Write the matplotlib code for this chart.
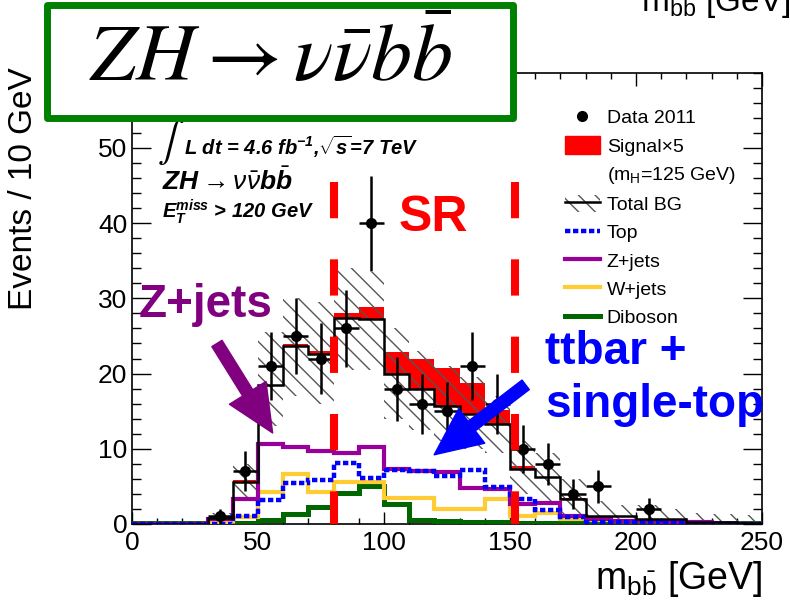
import numpy as np
import matplotlib
matplotlib.use('Agg')
import matplotlib.pyplot as plt
from matplotlib.lines import Line2D
from matplotlib.patches import Patch, Rectangle, FancyArrowPatch

plt.rcParams['font.family'] = ['Liberation Sans', 'DejaVu Sans']
plt.rcParams['mathtext.fontset'] = 'custom'
plt.rcParams['mathtext.rm'] = 'Liberation Sans'
plt.rcParams['mathtext.it'] = 'Liberation Sans:italic'
plt.rcParams['mathtext.bf'] = 'Liberation Sans:bold:italic'
plt.rcParams['hatch.linewidth'] = 1.0

# binning: 10 GeV bins from 0 to 250
edges = np.arange(0, 251, 10)

# total background and components (events per bin)
total_bg = np.array([0, 0, 0.05, 0.8, 5.6, 18.5, 23.7, 22.6, 27.4, 27.2, 20.0, 17.9, 15.7,
                     14.6, 13.3, 7.3, 6.2, 3.3, 1.0, 1.0, 0.7, 0.7, 0.3, 0.2, 0.1])
bg_up = np.array([0, 0, 0.3, 1.5, 8.0, 25.5, 30.0, 29.5, 34.0, 33.5, 26.0, 23.0, 21.0,
                  19.5, 17.0, 11.0, 9.5, 6.0, 3.0, 2.5, 2.5, 2.0, 1.5, 1.3, 1.2])
bg_dn = np.array([0, 0, 0, 0.2, 3.5, 13.0, 17.0, 16.0, 20.5, 20.5, 14.0, 12.5, 11.0,
                  10.0, 9.5, 4.0, 3.0, 1.0, 0, 0, 0, 0, 0, 0, 0])
signal_x5 = np.array([0, 0, 0, 0, 0.2, 0.0, 0.2, 0.4, 0.7, 1.6, 2.9, 4.0, 5.1,
                      4.1, 1.9, 0.4, 0.05, 0.15, 0, 0, 0, 0, 0, 0, 0])
zjets = np.array([0, 0, 0, 0.7, 3.3, 10.6, 10.3, 9.75, 9.4, 10.3, 7.3, 7.0, 6.9,
                  4.8, 4.7, 2.6, 2.8, 1.0, 0.6, 0.4, 0.4, 0.3, 0.3, 0.05, 0.05])
top = np.array([0, 0, 0, 0, 1.0, 3.2, 5.4, 5.85, 8.1, 6.1, 7.2, 7.0, 6.4,
                7.2, 4.9, 3.3, 1.9, 0.9, 0.3, 0.3, 0.2, 0.1, 0, 0, 0])
wjets = np.array([0, 0, 0, 0.1, 0.9, 4.2, 6.7, 4.3, 5.6, 5.6, 3.4, 3.4, 2.0,
                  2.0, 3.3, 1.0, 1.4, 0.6, 0.5, 0.4, 0.4, 0.4, 0, 0, 0])
diboson = np.array([0.1, 0.1, 0.1, 0.1, 0.1, 0.5, 1.3, 2.2, 4.1, 5.0, 2.6, 0.5, 0.4,
                    0.3, 0.3, 0.15, 0.15, 0.15, 0.15, 0.15, 0.15, 0.15, 0.15, 0.15, 0.15])

# data 2011
data_x = np.array([35, 45, 55, 65, 75, 85, 95, 105, 115, 125, 135, 145, 155, 165, 175, 185, 205])
data_y = np.array([1, 7, 21, 25, 22, 26, 40, 18, 16, 15, 21, 16, 10, 8, 4, 5, 2])

# signal region boundaries
sr_edges = [80, 152]

fig = plt.figure(figsize=(7.9, 6.05), dpi=100)
ax = fig.add_axes([0.1671, 0.1339, 0.7975, 0.746])

hatch_col = '#555555'
ax.stairs(total_bg + signal_x5, edges, baseline=total_bg, fill=True, color='red', lw=0, zorder=1)
ax.stairs(bg_up, edges, baseline=bg_dn, fill=True, facecolor='none', edgecolor=hatch_col,
          hatch='\\\\', lw=0, zorder=2)
ax.stairs(diboson, edges, baseline=None, color='#006600', lw=3.6, zorder=3)
ax.stairs(wjets, edges, baseline=None, color='#ffcc33', lw=3.0, zorder=3)
ax.stairs(zjets, edges, baseline=None, color='#990099', lw=3.0, zorder=3)
ax.stairs(top, edges, baseline=None, color='#0000ff', lw=3.2, ls=(0, (1.2, 0.6)), zorder=4)
ax.stairs(total_bg, edges, baseline=None, color='black', lw=1.8, zorder=5)
ax.errorbar(data_x, data_y, xerr=5, yerr=np.sqrt(data_y), fmt='o', color='black',
            ms=7, elinewidth=1.8, capsize=0, zorder=6)

for xs in sr_edges:
    ax.plot([xs, xs], [45.5, 0], color='red', lw=5.8, dashes=(4.5, 5.1), zorder=7, solid_capstyle='butt')

ax.set_xlim(0, 250)
ax.set_ylim(0, 60)
ax.set_xticks(np.arange(0, 251, 50))
ax.set_xticks(np.arange(0, 251, 10), minor=True)
ax.set_yticks(np.arange(0, 51, 10))
ax.set_yticks(np.arange(0, 61, 2), minor=True)
ax.tick_params(which='both', direction='in', top=True, right=True, labelsize=19, width=1.0)
ax.tick_params(axis='x', which='major', length=9, pad=5)
ax.tick_params(axis='x', which='minor', length=4.5)
ax.tick_params(axis='y', which='major', length=13.5)
ax.tick_params(axis='y', which='minor', length=6.8)
for sp in ax.spines.values():
    sp.set_linewidth(1.2)

ax.set_ylabel('Events / 10 GeV', fontsize=24)
ax.yaxis.set_label_coords(-0.147, 0.742)
ax.set_xlabel(r'm$_{\mathrm{b\bar{b}}}$ [GeV]', fontsize=27, loc='right', labelpad=3)

# legend
h_data = Line2D([], [], marker='o', color='black', ls='none', ms=7)
h_sig = Patch(facecolor='red', edgecolor='red')
h_blank = Patch(facecolor='none', edgecolor='none')
h_bg = (Patch(facecolor='white', edgecolor=hatch_col, hatch='\\\\', lw=0),
        Line2D([], [], color='black', lw=1.8))
h_top = Line2D([], [], color='#0000ff', lw=3.2, ls=(0, (1.2, 0.6)))
h_z = Line2D([], [], color='#990099', lw=3.0)
h_w = Line2D([], [], color='#ffcc33', lw=3.0)
h_d = Line2D([], [], color='#006600', lw=3.6)
ax.legend([h_data, h_sig, h_blank, h_bg, h_top, h_z, h_w, h_d],
          ['Data 2011', 'Signal\u00d75', r'(m$_{\mathrm{H}}$=125 GeV)', 'Total BG', 'Top',
           'Z+jets', 'W+jets', 'Diboson'],
          loc='upper left', bbox_to_anchor=(0.687, 0.922), frameon=False, fontsize=14,
          handlelength=1.8, handleheight=1.0, handletextpad=0.35, labelspacing=0.46,
          borderpad=0, borderaxespad=0)

# ATLAS-style labels
ax.text(0.040, 0.846, r'$\int$', transform=ax.transAxes, fontsize=29, va='center',
        math_fontfamily='stix')
ax.text(0.083, 0.8176, r'L dt = 4.6 fb$^{\mathbf{-1}}$,$\sqrt{\mathbf{s}}$=7 TeV',
        transform=ax.transAxes, fontsize=14.5, fontweight='bold', style='italic', va='baseline')
ax.text(0.0476, 0.740, r'$\mathbf{ZH}\rightarrow\nu\bar{\nu}\mathbf{b}\bar{\mathbf{b}}$',
        transform=ax.transAxes, fontsize=19, va='baseline')
ax.text(0.0476, 0.678, r'$\mathbf{E_{T}^{miss}}$ > 120 GeV', transform=ax.transAxes,
        fontsize=14.5, fontweight='bold', style='italic', va='baseline')

# annotations
ax.text(119.5, 40.7, 'SR', color='red', fontsize=36, fontweight='bold', ha='center', va='center', zorder=8)
ax.text(29.1, 29.1, 'Z+jets', color='#800080', fontsize=33, fontweight='bold', ha='center',
        va='center', zorder=8)
ax.text(164.0, 22.9, 'ttbar +', color='#0000ff', fontsize=33, fontweight='bold', ha='left',
        va='center', zorder=8)
ax.text(164.0, 15.8, 'single-top', color='#0000ff', fontsize=33, fontweight='bold', ha='left',
        va='center', zorder=8)
ax.add_patch(FancyArrowPatch((33.7, 24.0), (55.8, 12.1), mutation_scale=1,
                             arrowstyle='simple,head_length=34,head_width=31,tail_width=8.6',
                             color='#800080', shrinkA=0, shrinkB=0, zorder=8))
ax.add_patch(FancyArrowPatch((156.2, 18.5), (119.9, 9.2), mutation_scale=1,
                             arrowstyle='simple,head_length=34,head_width=31,tail_width=8.6',
                             color='#0000ff', shrinkA=0, shrinkB=0, zorder=8))

# title box
fig.add_artist(Rectangle((0.0591, 1 - 118 / 605), 0.5903, 113 / 605, transform=fig.transFigure,
                         facecolor='white', edgecolor='#008000', lw=5, joinstyle='round', zorder=5))
fig.text(0.343, 1 - 60 / 605, r'$ZH\rightarrow\nu\bar{\nu}b\bar{b}$', fontsize=59,
         ha='center', va='center', math_fontfamily='stix', zorder=6)

# clipped label from the slide above
fig.text(0.812, 1 - 11 / 605, r'm$_{\mathrm{b\bar{b}}}$ [GeV]', fontsize=24, va='baseline')

fig.savefig('out.png', dpi=100)
